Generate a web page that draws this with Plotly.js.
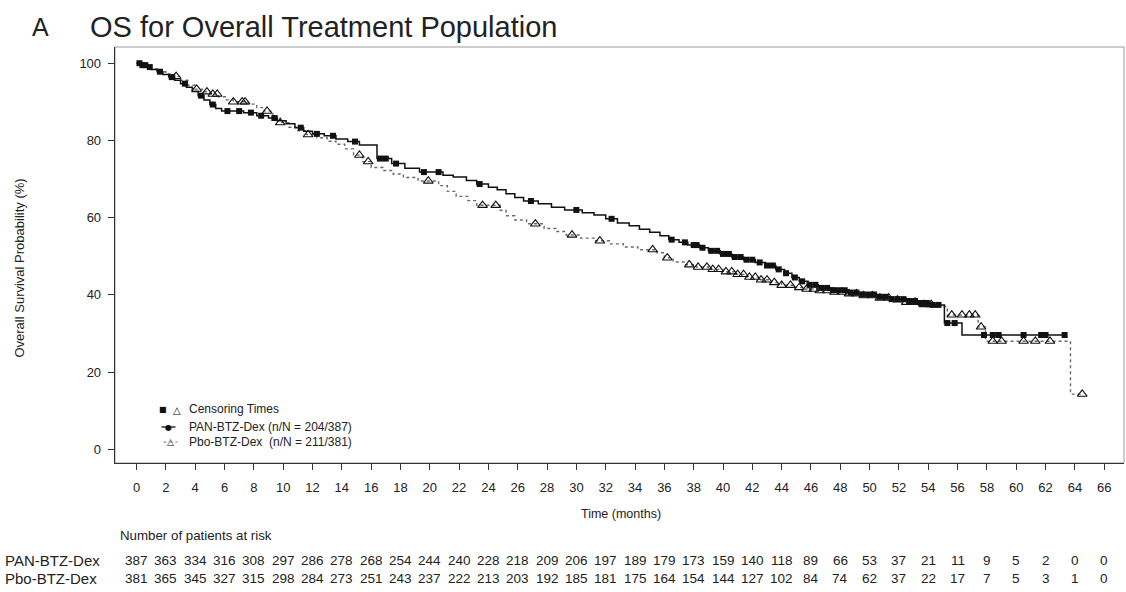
<!DOCTYPE html>
<html>
<head>
<meta charset="utf-8">
<script src="https://cdn.plot.ly/plotly-3.0.1.min.js"></script>
<style>
html,body{margin:0;padding:0;background:#fff;}
#chart{width:1126px;height:592px;}
</style>
</head>
<body>
<div id="chart"></div>
<script>
// ---- data ----
var panName = "PAN-BTZ-Dex";
var pboName = "Pbo-BTZ-Dex";
var panLegend = "PAN-BTZ-Dex (n/N = 204/387)";
var pboLegend = "Pbo-BTZ-Dex\u00a0\u00a0(n/N = 211/381)";

var panT = [0, 0.3, 0.7, 1.0, 1.4, 1.8, 2.2, 2.6, 3.0, 3.4, 3.8, 4.2, 4.6, 5.0, 5.4, 5.8, 7.3, 8.2, 9.0, 9.6, 10.2, 10.8, 11.4, 12.0, 12.8, 13.6, 14.4, 15.2, 16.4, 17.4, 18.3, 19.3, 20.9, 21.6, 22.5, 23.2, 24.0, 24.6, 25.2, 25.8, 26.4, 27.4, 28.3, 29.2, 30.4, 31.2, 32.0, 32.8, 33.6, 34.3, 35.0, 35.7, 36.3, 37.0, 37.6, 38.4, 39.0, 39.8, 40.6, 41.4, 42.2, 42.9, 43.6, 44.2, 44.7, 45.2, 45.8, 46.5, 47.5, 48.5, 49.5, 50.5, 51.5, 52.5, 53.5, 54.3, 55.1, 56.3, 63.3];
var panS = [100, 99.5, 99.0, 98.4, 97.8, 97.1, 96.4, 95.6, 94.7, 93.8, 92.7, 91.6, 90.5, 89.3, 88.3, 87.6, 87.2, 86.4, 85.8, 85.1, 84.3, 83.3, 82.4, 81.7, 81.2, 80.4, 79.7, 78.8, 75.3, 74.0, 72.8, 71.8, 71.0, 70.5, 69.6, 68.7, 67.9, 67.2, 66.2, 65.2, 64.3, 63.6, 62.7, 62.0, 61.3, 60.7, 59.7, 58.6, 57.9, 57.0, 56.2, 55.3, 54.3, 53.6, 52.9, 52.2, 51.4, 50.6, 49.8, 49.1, 48.4, 47.6, 46.6, 45.6, 44.5, 43.5, 42.6, 41.8, 41.2, 40.6, 40.1, 39.5, 38.9, 38.4, 37.9, 37.4, 32.7, 29.6, 29.6];

var pboT = [0, 0.5, 1.0, 1.5, 2.0, 2.6, 3.0, 3.5, 4.0, 4.5, 5.0, 5.6, 6.1, 6.6, 7.6, 8.2, 8.7, 9.3, 9.8, 10.4, 11.0, 11.6, 12.3, 13.0, 13.6, 14.2, 14.8, 15.4, 16.0, 16.8, 17.5, 18.2, 19.2, 20.6, 21.2, 21.8, 22.6, 23.2, 24.8, 25.2, 25.8, 26.6, 27.8, 28.6, 29.3, 30.3, 31.2, 32.3, 33.2, 34.2, 35.5, 36.0, 36.6, 37.4, 38.2, 39.0, 40.0, 40.8, 41.6, 42.4, 43.2, 44.0, 44.8, 45.6, 46.4, 47.5, 48.5, 49.5, 50.5, 51.5, 52.5, 53.5, 54.5, 55.3, 57.4, 57.9, 63.7, 64.5];
var pboS = [100, 99.2, 98.5, 97.8, 97.2, 96.6, 95.6, 94.3, 93.3, 92.6, 92.0, 91.3, 90.5, 90.0, 89.4, 88.5, 87.6, 86.2, 84.6, 83.4, 82.5, 81.5, 80.7, 79.8, 79.0, 77.8, 76.2, 74.5, 73.0, 72.2, 71.3, 70.4, 69.5, 68.3, 66.8, 65.5, 64.4, 63.2, 61.9, 60.5, 59.4, 58.4, 57.2, 56.4, 55.5, 54.7, 54.0, 53.2, 52.4, 51.7, 50.9, 49.6, 48.5, 47.8, 47.2, 46.6, 46.0, 45.3, 44.6, 43.9, 43.2, 42.5, 41.9, 41.5, 41.1, 40.7, 40.3, 39.8, 39.2, 38.7, 38.1, 37.5, 37.0, 34.8, 31.7, 28.0, 14.3, 14.3];

var panCensor = [0.2, 0.4, 0.6, 0.9, 1.6, 2.4, 3.3, 4.4, 5.2, 6.2, 7.0, 7.8, 8.5, 9.4, 11.2, 12.3, 13.4, 14.9, 16.6, 17.0, 17.7, 19.6, 20.6, 23.4, 26.9, 30.0, 32.4, 36.5, 37.4, 38.0, 38.2, 38.6, 39.2, 39.6, 40.0, 40.4, 40.8, 41.2, 41.6, 42.0, 42.5, 43.0, 43.4, 43.8, 44.3, 44.9, 45.4, 45.9, 46.3, 46.7, 47.1, 47.5, 47.9, 48.3, 48.7, 49.1, 49.5, 49.9, 50.3, 50.7, 51.1, 51.5, 51.9, 52.3, 52.7, 53.1, 53.5, 53.9, 54.3, 54.7, 55.3, 55.8, 57.8, 58.4, 58.8, 60.5, 61.7, 62.0, 63.3];
var pboCensor = [2.7, 4.1, 4.8, 5.2, 5.5, 6.6, 7.2, 7.4, 8.9, 9.8, 11.7, 15.2, 15.8, 19.9, 23.6, 24.5, 27.2, 29.7, 31.6, 35.2, 36.2, 37.7, 38.3, 38.9, 39.3, 39.7, 40.2, 40.6, 41.0, 41.4, 41.8, 42.2, 42.6, 43.0, 43.5, 44.0, 44.6, 45.2, 45.7, 46.2, 46.6, 47.1, 47.6, 48.1, 48.6, 49.1, 49.6, 50.2, 50.7, 51.3, 51.9, 52.5, 53.1, 53.7, 54.2, 55.6, 56.3, 56.8, 57.2, 57.6, 58.4, 59.0, 60.5, 61.3, 62.3, 64.5];

var riskTimes = [0, 2, 4, 6, 8, 10, 12, 14, 16, 18, 20, 22, 24, 26, 28, 30, 32, 34, 36, 38, 40, 42, 44, 46, 48, 50, 52, 54, 56, 58, 60, 62, 64, 66];
var panRisk = [387, 363, 334, 316, 308, 297, 286, 278, 268, 254, 244, 240, 228, 218, 209, 206, 197, 189, 179, 173, 159, 140, 118, 89, 66, 53, 37, 21, 11, 9, 5, 2, 0, 0];
var pboRisk = [381, 365, 345, 327, 315, 298, 284, 273, 251, 243, 237, 222, 213, 203, 192, 185, 181, 175, 164, 154, 144, 127, 102, 84, 74, 62, 37, 22, 17, 7, 5, 3, 1, 0];
var yTicks = [0, 20, 40, 60, 80, 100];

// ---- helpers ----
function stepAt(T, S, t) {
  var v = S[0];
  for (var i = 0; i < T.length; i++) { if (T[i] <= t) v = S[i]; else break; }
  return v;
}
var panCy = panCensor.map(function (t) { return stepAt(panT, panS, t); });
var pboCy = pboCensor.map(function (t) { return stepAt(pboT, pboS, t); });

// plot area in pixels: left 114.5, right 1124, top 47, bottom 463
var L = 114.5, R = 1124, T0 = 47, B = 463;
function px(x) { return (x - L) / (R - L); }
function py(y) { return (B - y) / (B - T0); }

var txt = '#222';
var font = 'Liberation Sans, Arial, sans-serif';

var traces = [
  {x: pboT, y: pboS, mode: 'lines', line: {shape: 'hv', color: '#6a6a6a', width: 1.4, dash: 'dot'}, hoverinfo: 'skip', showlegend: false},
  {x: panT, y: panS, mode: 'lines', line: {shape: 'hv', color: '#111', width: 1.5}, hoverinfo: 'skip', showlegend: false},
  {x: pboCensor, y: pboCy, mode: 'markers', marker: {symbol: 'triangle-up-open', size: 8.5, color: '#111', line: {width: 1.1, color: '#111'}}, hoverinfo: 'skip', showlegend: false},
  {x: panCensor, y: panCy, mode: 'markers', marker: {symbol: 'square', size: 6, color: '#111'}, hoverinfo: 'skip', showlegend: false}
];

var ann = [];
ann.push({xref: 'paper', yref: 'paper', x: px(40), y: py(27), text: 'A', showarrow: false, xanchor: 'center', yanchor: 'middle', font: {family: font, size: 25, color: txt}});
ann.push({xref: 'paper', yref: 'paper', x: px(87), y: py(27), text: 'OS for Overall Treatment Population', showarrow: false, xanchor: 'left', yanchor: 'middle', font: {family: font, size: 29, color: txt}});
ann.push({xref: 'paper', yref: 'paper', x: px(18), y: py(268), text: 'Overall Survival Probability (%)', textangle: -90, showarrow: false, xanchor: 'center', yanchor: 'middle', font: {family: font, size: 13, color: txt}});
ann.push({xref: 'paper', yref: 'paper', x: px(621), y: py(514), text: 'Time (months)', showarrow: false, xanchor: 'center', yanchor: 'middle', font: {family: font, size: 12.5, color: txt}});
ann.push({xref: 'paper', yref: 'paper', x: px(118), y: py(535), text: 'Number of patients at risk', showarrow: false, xanchor: 'left', yanchor: 'middle', font: {family: font, size: 13.3, color: txt}});
ann.push({xref: 'paper', yref: 'paper', x: px(2), y: py(560), text: panName, showarrow: false, xanchor: 'left', yanchor: 'middle', font: {family: font, size: 15, color: txt}});
ann.push({xref: 'paper', yref: 'paper', x: px(2), y: py(578), text: pboName, showarrow: false, xanchor: 'left', yanchor: 'middle', font: {family: font, size: 15, color: txt}});
for (var i = 0; i < riskTimes.length; i++) {
  ann.push({xref: 'x', yref: 'paper', x: riskTimes[i], y: py(560), text: String(panRisk[i]), showarrow: false, xanchor: 'center', yanchor: 'middle', font: {family: font, size: 13.5, color: txt}});
  ann.push({xref: 'x', yref: 'paper', x: riskTimes[i], y: py(578), text: String(pboRisk[i]), showarrow: false, xanchor: 'center', yanchor: 'middle', font: {family: font, size: 13.5, color: txt}});
}
// legend
ann.push({xref: 'paper', yref: 'paper', x: px(163), y: py(409), text: '\u25A0', showarrow: false, xanchor: 'center', yanchor: 'middle', font: {family: 'DejaVu Sans', size: 8, color: '#111'}});
ann.push({xref: 'paper', yref: 'paper', x: px(177), y: py(410), text: '\u25B3', showarrow: false, xanchor: 'center', yanchor: 'middle', font: {family: 'DejaVu Sans', size: 10, color: '#111'}});
ann.push({xref: 'paper', yref: 'paper', x: px(187), y: py(409), text: 'Censoring Times', showarrow: false, xanchor: 'left', yanchor: 'middle', font: {family: font, size: 12, color: txt}});
ann.push({xref: 'paper', yref: 'paper', x: px(168), y: py(427), text: '\u25CF', showarrow: false, xanchor: 'center', yanchor: 'middle', font: {family: 'DejaVu Sans', size: 8, color: '#111'}});
ann.push({xref: 'paper', yref: 'paper', x: px(187), y: py(427), text: panLegend, showarrow: false, xanchor: 'left', yanchor: 'middle', font: {family: font, size: 12, color: txt}});
ann.push({xref: 'paper', yref: 'paper', x: px(170), y: py(442), text: '\u25B3', showarrow: false, xanchor: 'center', yanchor: 'middle', font: {family: 'DejaVu Sans', size: 9, color: '#111'}});
ann.push({xref: 'paper', yref: 'paper', x: px(187), y: py(442), text: pboLegend, showarrow: false, xanchor: 'left', yanchor: 'middle', font: {family: font, size: 12, color: txt}});

var shapes = [
  {type: 'rect', xref: 'paper', yref: 'paper', x0: 0, x1: 1, y0: 0, y1: 1, line: {color: '#9a9a9a', width: 1}, layer: 'below'},
  {type: 'line', xref: 'paper', yref: 'paper', x0: px(161), x1: px(175), y0: py(427), y1: py(427), line: {color: '#111', width: 1.3}},
  {type: 'line', xref: 'paper', yref: 'paper', x0: px(163), x1: px(177), y0: py(442), y1: py(442), line: {color: '#777', width: 1.2, dash: 'dot'}}
];

var layout = {
  width: 1126, height: 592,
  margin: {l: L, r: 1126 - R, t: T0, b: 592 - B, pad: 0},
  paper_bgcolor: '#fff', plot_bgcolor: '#fff',
  showlegend: false,
  xaxis: {range: [-1.47, 67.35], tickvals: riskTimes, ticktext: riskTimes.map(String), ticks: 'outside', ticklen: 6, tickwidth: 1, tickcolor: '#333',
          showline: true, linecolor: '#333', linewidth: 1.3, showgrid: false, zeroline: false, tickfont: {family: font, size: 13, color: txt}, ticklabelstandoff: 6},
  yaxis: {range: [-3.55, 104.2], tickvals: yTicks, ticktext: yTicks.map(String), ticks: 'outside', ticklen: 6, tickwidth: 1, tickcolor: '#333',
          showline: true, linecolor: '#333', linewidth: 1.3, showgrid: false, zeroline: false, tickfont: {family: font, size: 13, color: txt}, ticklabelstandoff: 4},
  annotations: ann,
  shapes: shapes
};

Plotly.newPlot('chart', traces, layout, {staticPlot: true, displayModeBar: false});
</script>
</body>
</html>
